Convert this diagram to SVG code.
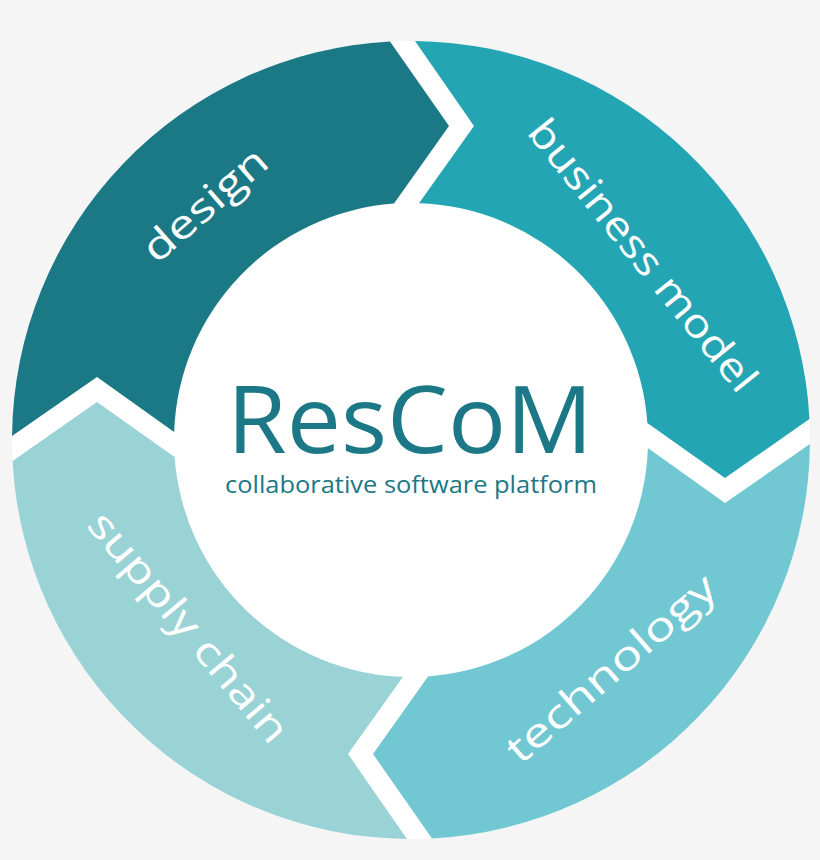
<svg xmlns="http://www.w3.org/2000/svg" width="820" height="860" viewBox="0 0 820 860">
<defs>
<style>
.seg{stroke:none}
.lbl{font-family:"Open Sans","Liberation Sans",sans-serif;font-size:40px;fill:#ffffff;text-anchor:middle}
.title{font-family:"Open Sans","Liberation Sans",sans-serif;fill:#1c7886;text-anchor:middle}
</style>
<path id="segShape" d="M415,41.02 A399,399 0 0 1 809.45,419 L725,478 L647.39,423 A237,237 0 0 0 419,203.14 L474,126 Z"/>
</defs>
<rect x="0" y="0" width="820" height="860" fill="#f5f5f5"/>
<circle cx="411" cy="440" r="399" fill="#ffffff"/>
<g id="business-model">
<use href="#segShape" class="seg" fill="#24a5b3"/>
<text class="lbl" transform="translate(632,264) rotate(51)" textLength="338" lengthAdjust="spacingAndGlyphs">business model</text>
</g>
<g id="technology">
<use href="#segShape" class="seg" fill="#71c8d2" transform="rotate(90 411 440)"/>
<text class="lbl" transform="translate(620,679) rotate(-41)" textLength="264" lengthAdjust="spacingAndGlyphs">technology</text>
</g>
<g id="supply-chain">
<use href="#segShape" class="seg" fill="#9ad3d5" transform="rotate(180 411 440)"/>
<text class="lbl" transform="translate(178,636) rotate(50)" textLength="288" lengthAdjust="spacingAndGlyphs">supply chain</text>
</g>
<g id="design">
<use href="#segShape" class="seg" fill="#1b7985" transform="rotate(270 411 440)"/>
<text class="lbl" transform="translate(214,215) rotate(-41)" textLength="152" lengthAdjust="spacingAndGlyphs">design</text>
</g>
<g id="center">
<text class="title" x="410" y="453" font-size="94" textLength="366" lengthAdjust="spacingAndGlyphs">ResCoM</text>
<text class="title" x="411" y="493" font-size="23" fill="#248693" textLength="372" lengthAdjust="spacingAndGlyphs">collaborative software platform</text>
</g>
<g id="connectors"></g>
</svg>
